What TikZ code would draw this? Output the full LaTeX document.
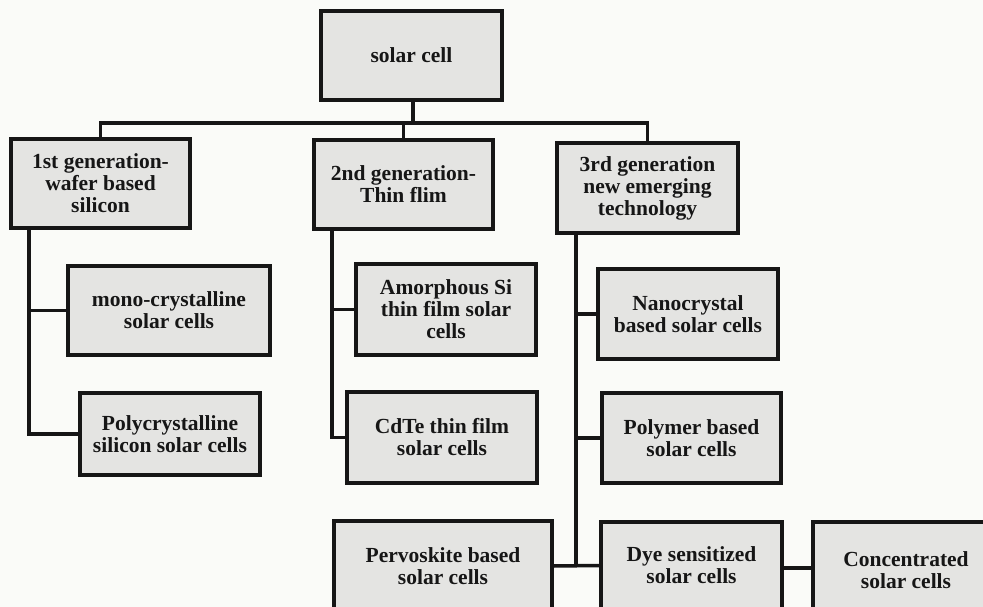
\documentclass[tikz,border=0pt]{standalone}
\usepackage{fontspec}
\setmainfont{Liberation Serif}
\definecolor{bg}{RGB}{250,251,248}
\definecolor{boxgray}{RGB}{228,228,226}
\definecolor{ink}{RGB}{22,22,22}
\newcommand{\boxfont}{\bfseries\fontsize{21.5}{22}\selectfont}
\tikzset{
  box/.style={draw=ink, line width=3.5pt, fill=boxgray, align=center, inner sep=0pt,
              text=ink, font=\boxfont, line join=miter},
  conn/.style={draw=ink, line width=3.5pt, line join=miter},
}
\begin{document}
\begin{tikzpicture}[x=1pt, y=-1pt]
\useasboundingbox (0,0) rectangle (983,607);
\clip (0,0) rectangle (983,607);
\fill[bg] (0,0) rectangle (983,607);

% coordinates for buses / trunks
\coordinate (bus) at (0,123);
\coordinate (t1) at (29,0);
\coordinate (t2) at (332,0);
\coordinate (t3) at (576,0);

\path (411.5,55.5) node[box, minimum width=181pt, minimum height=89pt] (top) {solar cell};
\path (100.5,183.5) node[box, minimum width=179pt, minimum height=89pt] (g1) {1st generation-\\wafer based\\silicon};
\path (403.5,184.5) node[box, minimum width=179pt, minimum height=89pt] (g2) {2nd generation-\\Thin flim};
\path (647.5,188) node[box, minimum width=181pt, minimum height=90pt] (g3) {3rd generation\\new emerging\\technology};

\path (169,310.5) node[box, minimum width=202pt, minimum height=89pt] (mono) {mono-crystalline\\solar cells};
\path (170,434) node[box, minimum width=180pt, minimum height=82pt] (poly) {Polycrystalline\\silicon solar cells};

\path (446,309.5) node[box, minimum width=180pt, minimum height=91pt] (amorph) {Amorphous Si\\thin film solar\\cells};
\path (442,437.5) node[box, minimum width=190pt, minimum height=91pt] (cdte) {CdTe thin film\\solar cells};

\path (688,314) node[box, minimum width=180pt, minimum height=90pt] (nano) {Nanocrystal\\based solar cells};
\path (691.5,438) node[box, minimum width=179pt, minimum height=90pt] (polymer) {Polymer based\\solar cells};

\path (443,566) node[box, minimum width=218pt, minimum height=90pt] (perv) {Pervoskite based\\solar cells};
\path (691.5,565.5) node[box, minimum width=181pt, minimum height=87pt] (dye) {Dye sensitized\\solar cells};
\path (906,570) node[box, minimum width=186pt, minimum height=96pt] (conc) {Concentrated\\solar cells};

% top level
\draw[conn] ([xshift=1.5pt]top.south) -- ([xshift=1.5pt]top.south |- bus);
\draw[conn] (g1.north) -- (g1.north |- bus) -- (g3.north |- bus) -- (g3.north);
\draw[conn] (g2.north) -- (g2.north |- bus);

% 1st generation
\draw[conn] (g1.south -| t1) |- (poly.west);
\draw[conn] (t1 |- mono.west) -- (mono.west);

% 2nd generation
\draw[conn] (g2.south -| t2) |- (cdte.west);
\draw[conn] (t2 |- amorph.west) -- (amorph.west);

% 3rd generation
\draw[conn] (g3.south -| t3) -- (t3 |- perv.east);
\draw[conn] (t3 |- nano.west) -- (nano.west);
\draw[conn] (t3 |- polymer.west) -- (polymer.west);
\draw[conn] (perv.east) -- (dye.west);
\draw[conn] ([yshift=-2.5pt]dye.east) -- ([yshift=-2.5pt]dye.east -| conc.west);
\end{tikzpicture}
\end{document}
